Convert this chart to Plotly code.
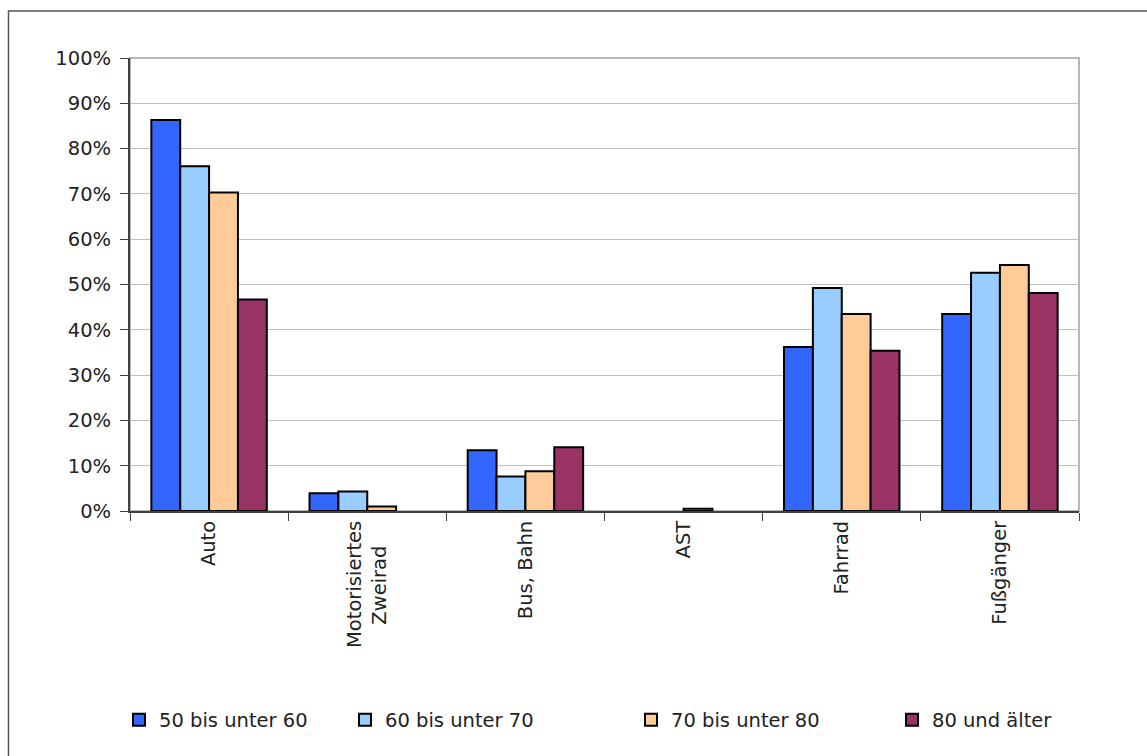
import plotly.graph_objects as go

# Verkehrsmittelnutzung nach Altersgruppen (Anteil in %)
categories = ["Auto", "Motorisiertes<br>Zweirad\u00a0\u00a0\u00a0\u00a0", "Bus, Bahn", "AST", "Fahrrad", "Fußgänger"]
groups = ["50 bis unter 60", "60 bis unter 70", "70 bis unter 80", "80 und älter"]
v_50_60 = [86.3, 3.9, 13.4, None, 36.2, 43.5]
v_60_70 = [76.1, 4.3, 7.6, None, 49.2, 52.6]
v_70_80 = [70.3, 1.0, 8.8, 0.5, 43.5, 54.3]
v_80_plus = [46.7, None, 14.1, None, 35.4, 48.1]
y_ticks = [0, 10, 20, 30, 40, 50, 60, 70, 80, 90, 100]
y_labels = [f"{t}%" for t in y_ticks]

colors = ["#3366FF", "#99CCFF", "#FFCC99", "#993366"]
series = [v_50_60, v_60_70, v_70_80, v_80_plus]
legend_ids = ["legend", "legend2", "legend3", "legend4"]

FONT = "DejaVu Sans, Verdana, sans-serif"
FS = 19.5
TXT = "#222222"
W, H = 1147, 756
L, R, T, B = 130, 68, 58, 245
pw, ph = W - L - R, H - T - B

fig = go.Figure()
for name, vals, col, lg in zip(groups, series, colors, legend_ids):
    fig.add_trace(go.Bar(
        x=categories, y=vals, name=name,
        marker=dict(color=col, line=dict(color="#000000", width=2)),
        legend=lg,
    ))

def px_x(x):
    return (x - L) / pw

def px_y(y):
    return (H - B - y) / ph

# legend entries laid out in one row below the chart
legend_text_x = [159, 385, 671, 932]
legend_cfg = {}
for lg, tx in zip(legend_ids, legend_text_x):
    legend_cfg[lg] = dict(
        x=px_x(tx - 40), y=px_y(720), xanchor="left", yanchor="middle",
        orientation="h", bgcolor="rgba(0,0,0,0)",
        font=dict(family=FONT, size=FS, color=TXT),
        itemwidth=30,
    )

fig.update_layout(
    width=W, height=H,
    margin=dict(l=L, r=R, t=T, b=B),
    paper_bgcolor="white", plot_bgcolor="white",
    barmode="group", bargap=0.27, bargroupgap=0,
    font=dict(family=FONT, size=FS, color=TXT),
    showlegend=True,
    **legend_cfg,
    xaxis=dict(
        type="category", showgrid=False,
        showline=True, linecolor="#404040", linewidth=2,
        ticks="outside", tickson="boundaries", ticklen=8, tickcolor="#404040", tickwidth=1,
        tickangle=-90, tickfont=dict(family=FONT, size=FS, color=TXT),
        range=[-0.5, 5.5],
    ),
    yaxis=dict(
        range=[0, 100], tickvals=y_ticks, ticktext=y_labels,
        showgrid=True, gridcolor="#c0c0c0", gridwidth=1,
        showline=True, linecolor="#404040", linewidth=2,
        ticks="outside", ticklen=8, tickcolor="#404040", tickwidth=1,
        ticklabelstandoff=5,
        tickfont=dict(family=FONT, size=FS, color=TXT),
        zeroline=False,
    ),
    shapes=[
        # outer chart frame
        dict(type="rect", xref="paper", yref="paper",
             x0=px_x(8.5), x1=px_x(1160), y0=px_y(770), y1=px_y(11),
             line=dict(color="#555555", width=1.5), fillcolor="rgba(0,0,0,0)", layer="below"),
        # plot-area border
        dict(type="rect", xref="paper", yref="paper", x0=0, x1=1, y0=0, y1=1,
             line=dict(color="#a0a0a0", width=1.5), fillcolor="rgba(0,0,0,0)", layer="below"),
    ],
)

fig.write_html("out.html")
